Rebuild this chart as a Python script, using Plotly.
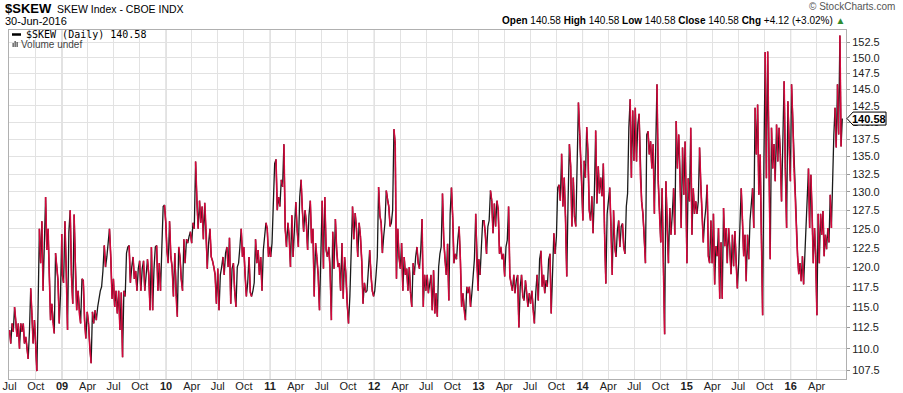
import numpy as np
import pandas as pd
import plotly.graph_objects as go

# ---------------- data ----------------
v2008 = [112.2, 110.6, 113.0, 112.0, 115.0, 113.3, 111.4, 113.0, 110.0, 113.0, 112.0, 113.0, 110.6, 111.4, 110.2, 108.8, 112.0, 117.3, 114.0, 110.6, 113.4,
         110.6, 107.4, 115.4, 125.0, 120.5, 126.0, 117.0, 123.6, 129.3, 122.2, 125.0, 119.0, 113.4, 115.4, 113.0, 111.8, 121.8, 120.0, 118.3, 113.0, 116.5, 124.3]
v2009 = [119.0, 118.0, 126.0, 119.5, 112.2, 124.6, 127.5, 119.0, 115.4, 126.9, 119.5, 114.6, 117.0, 114.2, 113.0, 118.5, 118.3, 113.4, 111.2, 114.4,
         113.0, 110.2, 108.3, 114.4, 113.0, 114.6, 113.4, 115.0, 116.3, 117.0, 117.5, 119.5, 122.8, 120.0, 121.3, 123.2, 125.0, 121.3, 116.0, 118.5,
         115.0, 117.0, 114.2, 117.0, 112.2, 116.8, 109.0, 117.0, 116.3, 121.8, 122.6, 122.8, 118.0, 120.0, 121.3, 118.5, 119.5, 117.0, 119.8, 120.8,
         117.0, 119.8, 120.8, 117.0, 119.0, 121.0, 119.0, 114.6, 122.6, 114.6, 119.8, 122.6, 122.8, 117.0, 120.5, 117.0, 122.6, 128.0, 128.2, 125.8]
v2010 = [122.2, 120.5, 126.0, 121.3, 120.0, 116.3, 121.8, 116.3, 113.8, 122.6, 121.3, 118.5, 117.0, 123.6, 120.5, 123.6, 123.1, 124.0, 124.6,
         123.1, 125.8, 125.0, 134.3, 128.8, 125.0, 128.8, 125.8, 128.0, 123.6, 128.5, 125.0, 119.8, 123.1, 125.0, 121.3, 120.8, 120.0, 119.0, 115.4,
         119.8, 114.6, 119.0, 120.0, 121.3, 119.0, 121.8, 122.6, 120.0, 123.8, 115.4, 119.8, 120.5, 117.0, 115.0, 120.0, 120.5, 122.6, 125.0, 121.3, 122.6,
         119.0, 116.3, 118.0, 121.3, 116.8, 116.3, 117.0, 118.0, 123.6, 120.5, 122.2, 119.0, 121.3, 117.0, 122.2, 124.0, 125.8, 125.0, 121.3, 122.6]
v2011 = [121.3, 123.1, 128.0, 134.0, 134.6, 127.5, 129.3, 128.0, 131.7, 130.7, 136.8, 125.0, 122.6, 125.8, 124.0, 120.0, 126.8, 121.3, 125.0, 128.6,
         125.0, 122.6, 129.3, 131.7, 127.5, 124.6, 127.5, 125.8, 122.2, 126.8, 128.8, 123.1, 125.0, 116.3, 123.1, 121.3, 119.0, 114.6, 123.1, 128.8,
         119.8, 129.3, 122.2, 121.3, 122.6, 119.8, 113.4, 124.6, 119.8, 126.3, 122.2, 120.0, 120.5, 117.0, 123.1, 116.0, 121.3, 119.0, 115.4, 113.0,
         116.3, 121.8, 128.0, 123.6, 127.1, 125.0, 121.3, 125.8, 124.0, 120.8, 115.4, 118.0, 116.8, 117.0, 120.5, 122.2, 119.0, 117.0, 116.3]
v2012 = [117.0, 119.0, 121.3, 130.7, 126.8, 125.8, 121.8, 124.0, 125.8, 130.2, 128.8, 128.0, 125.3, 125.8, 127.5, 139.0, 136.8, 118.5, 125.0, 121.3, 119.8,
         123.1, 117.0, 121.3, 119.0, 119.8, 117.0, 120.0, 116.8, 115.0, 120.5, 119.0, 121.3, 122.6, 120.5, 119.8, 122.2, 126.3, 115.0, 119.0, 117.0,
         119.0, 116.7, 118.3, 119.0, 114.6, 119.6, 114.2, 116.7, 113.8, 120.0, 121.7, 122.6, 129.8, 123.5, 121.0, 119.0, 123.0, 115.8, 127.0, 130.6, 126.6,
         120.5, 121.7, 121.0, 123.5, 125.3, 121.0, 115.0, 116.7, 114.6, 113.4, 117.5, 116.7, 117.5, 115.0, 116.7, 118.8, 121.0, 127.0, 120.0, 117.0]
v2013 = [121.0, 119.0, 122.6, 126.1, 126.1, 124.4, 121.7, 125.3, 126.1, 130.2, 128.8, 124.4, 128.4, 125.3, 128.8, 127.5, 121.7, 122.6, 121.0, 121.7,
         118.8, 122.6, 123.5, 128.0, 118.8, 117.9, 117.0, 119.0, 116.7, 118.3, 119.0, 112.5, 117.5, 119.0, 116.3, 115.8, 118.3, 116.7, 115.0, 116.7,
         115.4, 117.0, 114.6, 113.0, 116.7, 119.0, 115.8, 121.0, 122.1, 117.5, 119.0, 116.7, 118.3, 117.5, 121.0, 121.7, 114.2, 119.0, 124.4, 121.7,
         124.0, 130.6, 131.0, 128.8, 135.4, 128.0, 132.0, 126.6, 118.8, 128.8, 136.8, 133.6, 125.3, 132.0, 126.6, 125.3, 134.4, 143.0, 138.2, 134.0, 129.8]
v2014 = [126.1, 134.4, 132.0, 139.3, 135.4, 127.5, 126.1, 129.4, 124.4, 129.8, 138.8, 128.4, 133.6, 129.8, 132.0, 129.4, 134.0, 124.4, 117.9, 127.0,
         128.8, 130.6, 125.3, 119.0, 127.5, 122.6, 121.3, 124.8, 126.1, 122.6, 125.3, 125.7, 122.6, 121.7, 128.0, 129.8, 139.3, 143.5, 132.0, 141.8, 134.4,
         142.2, 134.3, 139.7, 141.3, 132.4, 128.7, 127.0, 124.2, 120.5, 138.2, 138.7, 135.3, 137.2, 133.3, 136.8, 127.0, 134.3, 145.8, 131.5, 127.0,
         123.2, 130.5, 120.5, 111.7, 131.5, 125.1, 120.5, 127.8, 124.2, 127.0, 130.5, 124.2, 140.2, 133.3, 138.2, 132.4, 125.1, 136.3, 129.6, 137.2, 127.8]
v2015 = [120.5, 131.9, 128.7, 139.2, 124.2, 130.5, 127.0, 128.7, 127.0, 128.7, 136.3, 131.0, 127.0, 123.2, 126.1, 127.8, 131.0, 121.4, 120.5, 126.1,
         120.5, 127.0, 117.8, 122.7, 121.4, 125.1, 116.0, 123.2, 116.0, 127.8, 122.7, 125.1, 120.5, 125.1, 122.3, 119.1, 124.2, 120.1, 124.7, 120.5,
         117.3, 120.5, 125.1, 130.5, 126.1, 121.4, 124.2, 118.2, 124.2, 121.0, 126.1, 129.2, 130.5, 125.1, 142.2, 135.3, 142.7, 129.6, 135.3, 124.2, 114.0,
         134.3, 150.9, 131.9, 151.0, 135.3, 121.0, 139.2, 133.3, 136.8, 131.5, 139.7, 134.3, 139.2, 135.3, 128.7, 139.2, 146.3, 133.3, 125.1, 143.2, 136.3, 131.5]
v2016 = [145.8, 140.2, 133.3, 129.6, 125.1, 121.4, 119.1, 120.5, 118.2, 121.4, 117.8, 121.4, 125.1, 129.6, 133.3, 125.1, 132.4, 127.0, 120.5, 125.1,
         121.4, 114.0, 127.0, 120.5, 127.0, 124.2, 127.4, 121.4, 124.2, 122.3, 125.1, 123.2, 129.6, 125.1, 132.4, 138.2, 142.2, 136.3, 145.8, 138.2, 153.6, 136.46, 140.58]

year_spans = [("2008-07-01", "2008-12-31", v2008), ("2009-01-02", "2009-12-31", v2009),
              ("2010-01-04", "2010-12-31", v2010), ("2011-01-03", "2011-12-30", v2011),
              ("2012-01-03", "2012-12-31", v2012), ("2013-01-02", "2013-12-31", v2013),
              ("2014-01-02", "2014-12-31", v2014), ("2015-01-02", "2015-12-31", v2015),
              ("2016-01-04", "2016-06-30", v2016)]

y_ticks = [107.5, 110.0, 112.5, 115.0, 117.5, 120.0, 122.5, 125.0, 127.5, 130.0,
           132.5, 135.0, 137.5, 140.0, 142.5, 145.0, 147.5, 150.0, 152.5]
x_tick_labels = ["Jul", "Oct", "09", "Apr", "Jul", "Oct", "10", "Apr", "Jul", "Oct", "11", "Apr", "Jul", "Oct",
                 "12", "Apr", "Jul", "Oct", "13", "Apr", "Jul", "Oct", "14", "Apr", "Jul", "Oct",
                 "15", "Apr", "Jul", "Oct", "16", "Apr"]

last_close = 140.58
# -----------------------------------------------------------------------

dates, vals = [], []
for s, e, v in year_spans:
    d = pd.date_range(s, e, periods=len(v))
    dates.extend(d.strftime("%Y-%m-%d %H:%M").tolist())
    vals.extend(v)

# red overlay on falling segments
rx, ry = [], []
for i in range(len(vals) - 1):
    if vals[i + 1] < vals[i]:
        rx += [dates[i], dates[i + 1], None]
        ry += [vals[i], vals[i + 1], None]

RED = "#D5083C"
FONT = "Liberation Sans, Arial, sans-serif"

fig = go.Figure()
fig.add_trace(go.Scatter(x=dates, y=vals, mode="lines", line=dict(color="#1a1a1a", width=1.3),
                         hoverinfo="skip", showlegend=False))
fig.add_trace(go.Scatter(x=rx, y=ry, mode="lines", line=dict(color=RED, width=1.6),
                         connectgaps=False, hoverinfo="skip", showlegend=False))

q_dates = pd.date_range("2008-07-01", "2016-04-01", freq="QS").strftime("%Y-%m-%d").tolist()
q_text = [("<b>%s</b>" % t if t.isdigit() else t) for t in x_tick_labels]

L, R, T, B = 9, 57, 30, 14
W, H = 903, 393
PW, PH = W - L - R, H - T - B
YLO, YHI = np.log10(106.5), np.log10(154.5)


def PX(x):
    return (x - L) / PW


def PY(y):
    return (H - B - y) / PH


shapes = []
for yr in range(2009, 2017):
    shapes.append(dict(type="line", xref="x", yref="paper", x0="%d-01-01" % yr, x1="%d-01-01" % yr,
                       y0=0, y1=1, line=dict(color="#c4c4c4", width=1), layer="below"))
# legend dash
shapes.append(dict(type="line", xref="paper", yref="paper", x0=PX(12), x1=PX(21), y0=PY(34.5), y1=PY(34.5),
                   line=dict(color="#000", width=2.5)))
# volume icon
for bx, bh in [(12.5, 4), (14.5, 6), (16.5, 5)]:
    shapes.append(dict(type="rect", xref="paper", yref="paper", x0=PX(bx), x1=PX(bx + 1.3),
                       y0=PY(47), y1=PY(47 - bh), line=dict(width=0), fillcolor="#555"))
# last value tag (paper coords so it is not clipped to the plot area)
ly_paper = (np.log10(last_close) - YLO) / (YHI - YLO)
shapes.append(dict(type="path", xref="paper", yref="paper", xsizemode="pixel", ysizemode="pixel",
                   xanchor=1, yanchor=ly_paper, path="M 1,0 L 7,6.5 L 40,6.5 L 40,-6.5 L 7,-6.5 Z",
                   line=dict(color="#000", width=1), fillcolor="#fff", layer="above"))

ann = []
ann.append(dict(xref="paper", yref="paper", x=PX(3), y=PY(8.5), xanchor="left", yanchor="middle",
                text="<b>$SKEW</b>", font=dict(family=FONT, size=13, color="#000"), showarrow=False))
ann.append(dict(xref="paper", yref="paper", x=PX(55), y=PY(9), xanchor="left", yanchor="middle",
                text="SKEW Index - CBOE INDX", font=dict(family=FONT, size=10.5, color="#000"), showarrow=False))
ann.append(dict(xref="paper", yref="paper", x=PX(3), y=PY(21.5), xanchor="left", yanchor="middle",
                text="30-Jun-2016", font=dict(family=FONT, size=11, color="#000"), showarrow=False))
ann.append(dict(xref="paper", yref="paper", x=PX(24), y=PY(34.5), xanchor="left", yanchor="middle",
                text="$SKEW (Daily) 140.58", font=dict(family="DejaVu Sans Mono, monospace", size=10, color="#000"),
                showarrow=False))
ann.append(dict(xref="paper", yref="paper", x=PX(19), y=PY(44), xanchor="left", yanchor="middle",
                text="Volume undef", font=dict(family=FONT, size=10, color="#444"), showarrow=False))
ann.append(dict(xref="paper", yref="paper", x=PX(897), y=PY(7), xanchor="right", yanchor="middle",
                text="© StockCharts.com", font=dict(family=FONT, size=10, color="#555"), showarrow=False))
hdr = ("<b>Open</b> 140.58 <b>High</b> 140.58 <b>Low</b> 140.58 <b>Close</b> 140.58 "
       "<b>Chg</b> +4.12 (+3.02%) <span style='color:#2e8b2e'>▲</span>")
ann.append(dict(xref="paper", yref="paper", x=PX(848), y=PY(20), xanchor="right", yanchor="middle",
                text=hdr, font=dict(family=FONT, size=10, color="#000"), showarrow=False))
ann.append(dict(xref="paper", yref="paper", x=1, y=ly_paper, xanchor="center", yanchor="middle", xshift=23,
                text="<b>%.2f</b>" % last_close, font=dict(family=FONT, size=11, color="#000"), showarrow=False))

fig.update_layout(
    width=W, height=H, margin=dict(l=L, r=R, t=T, b=B),
    paper_bgcolor="#fff", plot_bgcolor="#fff",
    shapes=shapes, annotations=ann, showlegend=False,
    xaxis=dict(type="date", range=["2008-06-29", "2016-07-13"], tickmode="array", tickvals=q_dates,
               ticktext=q_text, showgrid=True, gridcolor="#e2e2e2", gridwidth=1, ticks="",
               showline=True, linecolor="#b0b0b0", mirror=True, zeroline=False, automargin=False,
               ticklabelstandoff=-3,
               tickfont=dict(family=FONT, size=11, color="#222")),
    yaxis=dict(type="log", range=[YLO, YHI], side="right", tickmode="array",
               tickvals=y_ticks, ticktext=["%.1f" % t for t in y_ticks], showgrid=True, gridcolor="#e2e2e2",
               ticks="outside", ticklen=3, tickcolor="#999", showline=True, linecolor="#b0b0b0", mirror=True,
               zeroline=False, automargin=False, tickfont=dict(family=FONT, size=11, color="#222")),
)

fig.write_html("out.html")
